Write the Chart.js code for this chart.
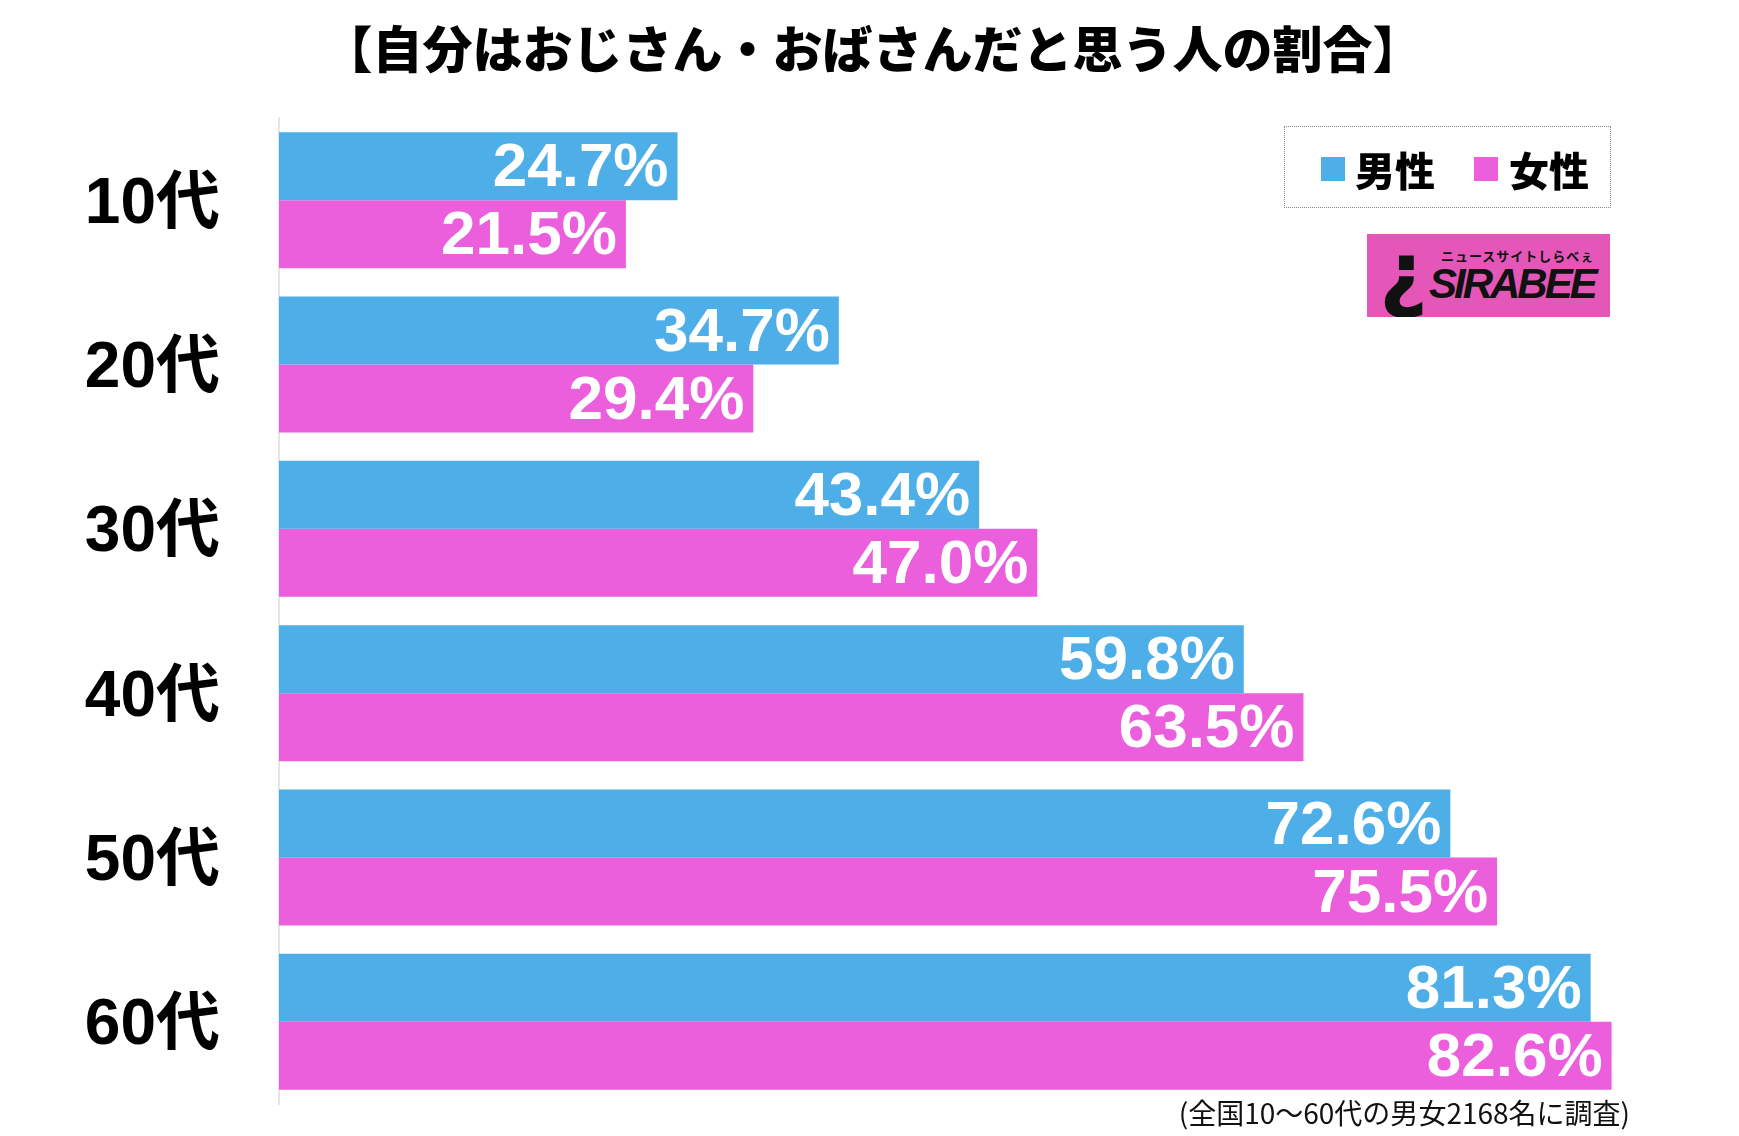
<!DOCTYPE html>
<html lang="ja">
<head>
<meta charset="utf-8">
<title>自分はおじさん・おばさんだと思う人の割合</title>
<script src="https://cdn.jsdelivr.net/npm/chart.js@4.4.1/dist/chart.umd.min.js"></script>
<style>
  html, body { margin: 0; padding: 0; background: #fff; }
  #wrap { position: relative; width: 1739px; height: 1136px; }
  #legend {
    position: absolute; left: 1284px; top: 126px; width: 325px; height: 80px;
    border: 1px dotted #888; font-family: "Noto Sans CJK JP", sans-serif;
    font-weight: 900; font-size: 40px; color: #000;
  }
  .item { position: absolute; top: 14px; line-height: 56px; }
  .sw { position: absolute; top: 30px; width: 24px; height: 24px; }
  #logo {
    position: absolute; left: 1367px; top: 234px; width: 243px; height: 83px;
    background: #E457B9; overflow: hidden;
  }
  #logo .i { position: absolute; left: 12px; top: -10px; font: 900 84px "DejaVu Sans", sans-serif; color: #111; }
  #logo .sub { position: absolute; left: 74px; top: 12px; font: bold 13px "Noto Sans CJK JP", sans-serif; color: #111; letter-spacing: 1px; }
  #logo .name { position: absolute; left: 62px; top: 26px; font: italic 900 42px "Liberation Sans", sans-serif; color: #111; letter-spacing: -3px; }
  #note {
    position: absolute; right: 109px; top: 1092px; font-family: "Noto Sans CJK JP", sans-serif;
    font-size: 28px; color: #111;
  }
</style>
</head>
<body>
<div id="wrap">
  <canvas id="barChart"></canvas>
  <div id="legend"></div>
  <div id="logo"><span class="i">¿</span><span class="sub">ニュースサイトしらべぇ</span><span class="name">SIRABEE</span></div>
  <div id="note">(全国10～60代の男女2168名に調査)</div>
</div>
<script>
'use strict';

const ageGroups = ['10代', '20代', '30代', '40代', '50代', '60代'];
const maleValues = [24.7, 34.7, 43.4, 59.8, 72.6, 81.3];
const femaleValues = [21.5, 29.4, 47.0, 63.5, 75.5, 82.6];
const seriesNames = ['男性', '女性'];
const seriesColors = ['#4DAEE8', '#EB5FDD'];

// legend box (html)
const legendEl = document.getElementById('legend');
const legendPos = [[36, 70], [189, 224]];
seriesNames.forEach((name, i) => {
  const sw = document.createElement('span');
  sw.className = 'sw';
  sw.style.left = legendPos[i][0] + 'px';
  sw.style.background = seriesColors[i];
  const tx = document.createElement('span');
  tx.className = 'item';
  tx.style.left = legendPos[i][1] + 'px';
  tx.textContent = name;
  legendEl.appendChild(sw);
  legendEl.appendChild(tx);
});

// white value labels at the bar ends
const valueLabels = {
  id: 'valueLabels',
  afterDatasetsDraw(chart) {
    const ctx = chart.ctx;
    ctx.save();
    ctx.font = 'bold 62px "Liberation Sans", Arial, sans-serif';
    ctx.fillStyle = '#fff';
    ctx.textAlign = 'right';
    ctx.textBaseline = 'middle';
    chart.data.datasets.forEach((ds, di) => {
      chart.getDatasetMeta(di).data.forEach((bar, i) => {
        ctx.fillText(ds.data[i].toFixed(1) + '%', bar.x - 9, bar.y + 3);
      });
    });
    ctx.restore();
  }
};

const barCtx = document.getElementById('barChart').getContext('2d');
const barChart = new Chart(barCtx, {
  type: 'bar',
  data: {
    labels: ageGroups,
    datasets: [{
      label: seriesNames[0],
      data: maleValues,
      backgroundColor: seriesColors[0],
      borderWidth: 0
    }, {
      label: seriesNames[1],
      data: femaleValues,
      backgroundColor: seriesColors[1],
      borderWidth: 0
    }]
  },
  options: {
    indexAxis: 'y',
    responsive: true,
    maintainAspectRatio: false,
    animation: false,
    categoryPercentage: 0.828,
    barPercentage: 1.0,
    layout: {
      padding: { top: 0, bottom: 32, left: 14, right: 8 }
    },
    plugins: {
      legend: { display: false },
      tooltip: { enabled: false },
      title: {
        display: true,
        text: '【自分はおじさん・おばさんだと思う人の割合】',
        color: '#000',
        font: { family: '"Noto Sans CJK JP", sans-serif', size: 50, weight: 900, lineHeight: 1.2 },
        padding: { top: 19, bottom: 39 }
      }
    },
    scales: {
      x: {
        display: false,
        min: 0,
        max: 90
      },
      y: {
        grid: { display: false, drawTicks: true, tickLength: 59 },
        border: { display: true, color: '#e6e6e6', width: 2 },
        ticks: {
          color: '#000',
          padding: 0,
          labelOffset: 5,
          font: { family: '"Liberation Sans", "Noto Sans CJK JP", sans-serif', size: 64, weight: 'bold', lineHeight: 1.0 }
        },
        afterFit(scale) { scale.width = 265; }
      }
    }
  },
  plugins: [valueLabels]
});
</script>
</body>
</html>
